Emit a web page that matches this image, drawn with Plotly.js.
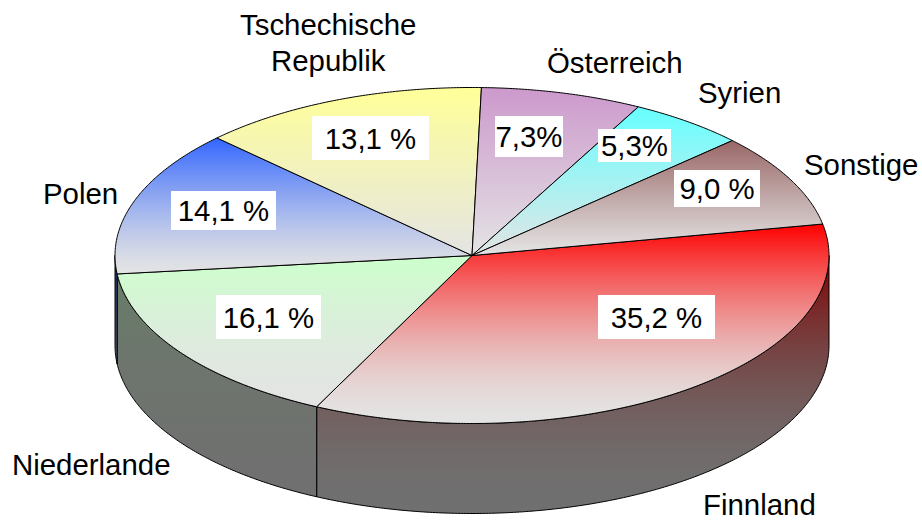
<!DOCTYPE html>
<html>
<head>
<meta charset="utf-8">
<script src="https://cdn.plot.ly/plotly-3.0.1.min.js"></script>
<style>html,body{margin:0;padding:0;background:#fff;overflow:hidden}#chart{width:922px;height:520px}</style>
</head>
<body>
<div id="chart"></div>
<script>
// Data, clockwise from the right-hand side
const categories = ['Finnland', 'Niederlande', 'Polen', 'Tschechische<br>Republik', 'Österreich', 'Syrien', 'Sonstige'];
const values = [35.2, 16.1, 14.1, 13.1, 7.3, 5.3, 9.0];
const valueLabels = ['35,2 %', '16,1 %', '14,1 %', '13,1 %', '7,3%', '5,3%', '9,0 %'];

// Styles
const faceColors = ['#FF0000', '#CCFFCC', '#3366FF', '#FFFF99', '#CC99CC', '#66FFFF', '#996666'];
const wallColors = ['#800000', '#668066', '#1A3380', '#808040', '#664D66', '#338080', '#4D3333'];
const faceEase = [1.65, 1.5, 1.3, 1, 1, 1, 1.1];
const wallEase = 2;
const faceFade = '#E4E4E4';
const wallFade = '#707070';

// Label placement: [x0, x1, y0, y1] of the white boxes, [x, y] of the names
const valueBoxes = [[598,715,295,339],[216,321,295,339],[171,276,191,230],[312,429,116,160],[495,563,116,157],[598,671,129,162],[674,760,170,207]];
const namePos = [[759,504],[91.5,464.5],[80.5,193.5],[328,42],[614.5,62.5],[739,92.5],[860.5,164.5]];
const nameLineStep = 36;

// Pie geometry in axis units
const cx = 472, cy = 255.5, rx = 357, ry = 168, depth = 90, startDeg = -10.8;

const total = values.reduce((a, b) => a + b, 0);
const rad = d => d * Math.PI / 180;
const px = d => cx + rx * Math.cos(rad(d));
const py = d => cy + ry * Math.sin(rad(d));

function arc(a, b) {
  const n = Math.max(2, Math.ceil(Math.abs(b - a) * 2));
  const out = [];
  for (let i = 0; i <= n; i++) out.push(a + (b - a) * i / n);
  return out;
}

// Eased two-colour ramp: the tall slices reach grey early, as in the reference
function hexRgb(h) { return [1, 3, 5].map(k => parseInt(h.slice(k, k + 2), 16)); }
function ramp(from, to, power) {
  const A = hexRgb(from), B = hexRgb(to), stops = [];
  for (let k = 0; k <= 12; k++) {
    const s = k / 12, f = 1 - Math.pow(1 - s, power);
    const c = A.map((v, j) => Math.round(v + (B[j] - v) * f));
    stops.push([s, 'rgb(' + c.join(',') + ')']);
  }
  return stops;
}

const faces = [], walls = [];
let ang = startDeg;
values.forEach((v, i) => {
  const a = ang, b = ang + v / total * 360;
  ang = b;
  // top face
  const t = arc(a, b);
  const fx = [cx, ...t.map(px), cx];
  const fy = [cy, ...t.map(py), cy];
  faces.push({
    type: 'scatter', mode: 'lines', x: fx, y: fy, fill: 'toself',
    line: {color: '#000', width: 1, simplify: false},
    fillgradient: {type: 'vertical', start: Math.min(...fy), stop: Math.max(...fy),
      colorscale: ramp(faceColors[i], faceFade, faceEase[i])},
    hoverinfo: 'skip', showlegend: false
  });
  // outer wall: only the front half of the rim is visible
  const wa = Math.max(a, 0), wb = Math.min(b, 180);
  if (wb > wa) {
    const w = arc(wa, wb);
    const wx = [...w.map(px), ...w.slice().reverse().map(px)];
    const wy = [...w.map(py), ...w.slice().reverse().map(d => py(d) + depth)];
    wx.push(wx[0]); wy.push(wy[0]);
    walls.push({
      type: 'scatter', mode: 'lines', x: wx, y: wy, fill: 'toself',
      line: {color: '#000', width: 1, simplify: false},
      fillgradient: {type: 'vertical', start: cy, stop: cy + ry + depth,
        colorscale: ramp(wallColors[i], wallFade, wallEase)},
      hoverinfo: 'skip', showlegend: false
    });
  }
});

const font = {family: '"Liberation Sans", Arial, sans-serif', size: 29.4, color: '#000'};
const annotations = [];
categories.forEach((c, i) => {
  const bx = valueBoxes[i];
  annotations.push({
    xref: 'x', yref: 'y', x: (bx[0] + bx[1]) / 2, y: (bx[2] + bx[3]) / 2,
    xanchor: 'center', yanchor: 'middle', text: valueLabels[i], showarrow: false,
    font, bgcolor: '#FFFFFF', borderpad: 0, borderwidth: 0,
    width: bx[1] - bx[0], height: bx[3] - bx[2], align: 'center', valign: 'middle'
  });
  const lines = c.split('<br>');
  lines.forEach((line, k) => {
    annotations.push({
      xref: 'x', yref: 'y', x: namePos[i][0],
      y: namePos[i][1] + (k - (lines.length - 1) / 2) * nameLineStep,
      xanchor: 'center', yanchor: 'middle', text: line, showarrow: false,
      font, align: 'center', borderpad: 0
    });
  });
});

Plotly.newPlot('chart', [...walls, ...faces], {
  width: 922, height: 520,
  margin: {l: 0, r: 0, t: 0, b: 0},
  paper_bgcolor: '#fff', plot_bgcolor: '#fff',
  xaxis: {visible: false, range: [0, 922], fixedrange: true},
  yaxis: {visible: false, range: [520, 0], fixedrange: true},
  showlegend: false, hovermode: false, font, annotations
}, {displayModeBar: false, staticPlot: true});
</script>
</body>
</html>
